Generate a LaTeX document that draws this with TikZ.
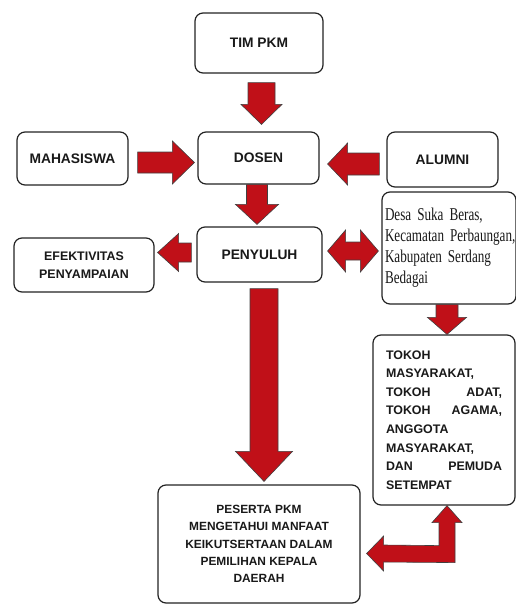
\documentclass[tikz,border=0pt]{standalone}
\usepackage{fontspec}
\setmainfont{Liberation Sans}
\newfontfamily\desafont{Liberation Serif}[FakeStretch=0.73]
\usetikzlibrary{calc}
\definecolor{arrowred}{RGB}{192,16,24}
\definecolor{boxline}{RGB}{35,35,35}
\tikzset{
  box/.style={draw=boxline, line width=1.2pt, rounded corners=8pt, fill=white,
    inner sep=3pt, text=black!90, font=\bfseries\fontsize{13.8}{18}\selectfont},
  multibox/.style={box, font=\bfseries\fontsize{11.9}{17.3}\selectfont},
  blockarrow/.style={fill=arrowred, draw=black!75, line width=0.6pt, line join=miter}
}
\newcommand{\getdir}[2]{%
  \path let \p1=#1, \p2=#2 in \pgfextra{%
    \pgfmathsetmacro{\arang}{atan2(\y2-\y1,\x2-\x1)}%
    \pgfmathsetmacro{\arlen}{veclen(\x2-\x1,\y2-\y1)}%
    \global\let\arangG\arang \global\let\arlenG\arlen};}
% #1 start, #2 tip, #3 shaft half width, #4 head half width, #5 head length
\newcommand{\barrow}[5]{%
  \getdir{#1}{#2}%
  \begin{scope}[shift={#1}, rotate=\arangG]
    \filldraw[blockarrow] (0,#3) -- (\arlenG-#5,#3) -- (\arlenG-#5,#4) -- (\arlenG,0)
      -- (\arlenG-#5,-#4) -- (\arlenG-#5,-#3) -- (0,-#3) -- cycle;
  \end{scope}}
\newcommand{\dbarrow}[5]{%
  \getdir{#1}{#2}%
  \begin{scope}[shift={#1}, rotate=\arangG]
    \filldraw[blockarrow] (0,0) -- (#5,#4) -- (#5,#3) -- (\arlenG-#5,#3) -- (\arlenG-#5,#4)
      -- (\arlenG,0) -- (\arlenG-#5,-#4) -- (\arlenG-#5,-#3) -- (#5,-#3) -- (#5,-#4) -- cycle;
  \end{scope}}
\begin{document}
\begin{tikzpicture}[x=1pt,y=-1pt]
\useasboundingbox (0,0) rectangle (516,605);

\node[box, minimum width=128pt, minimum height=60pt] (tim) at (259,43) {TIM PKM};
\node[box, minimum width=121pt, minimum height=52pt] (dosen) at (258.5,158) {DOSEN};
\node[box, minimum width=111pt, minimum height=53pt] (maha) at (72.5,158.5) {MAHASISWA};
\node[box, minimum width=111pt, minimum height=55pt] (alumni) at (442.5,159.5) {ALUMNI};
\node[box, minimum width=125pt, minimum height=55pt] (peny) at (259.5,254.5) {PENYULUH};
\node[multibox, minimum width=140pt, minimum height=54pt, align=center,
  font=\bfseries\fontsize{12.4}{18}\selectfont] (efek) at (84,265)
  {EFEKTIVITAS\\PENYAMPAIAN};
\node[box, minimum width=134pt, minimum height=112pt, text width=128pt, align=left,
  font=\desafont\fontsize{18}{21}\selectfont] (desa) at (449,248)
  {\mbox{Desa Suka Beras,}\\\mbox{Kecamatan Perbaungan,}\\\mbox{Kabupaten Serdang}\\\mbox{Bedagai}};
\node[multibox, minimum width=142pt, minimum height=170pt, text width=116pt, align=left,
  font=\bfseries\fontsize{12.4}{18.6}\selectfont] (tokoh) at (444,420)
  {TOKOH\\MASYARAKAT,\\TOKOH\hfill ADAT,\\TOKOH\hfill AGAMA,\\ANGGOTA\\MASYARAKAT,\\DAN\hfill PEMUDA\\SETEMPAT};
\node[multibox, minimum width=202pt, minimum height=118pt, align=center] (peserta) at (259,544)
  {PESERTA PKM\\MENGETAHUI MANFAAT\\KEIKUTSERTAAN DALAM\\PEMILIHAN KEPALA\\DAERAH};

% block arrows
\barrow{($(tim.south)+(2.5,9)$)}{($(tim.south |- dosen.north)+(2.5,-7)$)}{13.5}{20.5}{20}
\barrow{($(maha.east)+(9,4)$)}{($(maha.east -| dosen.west)+(-3,4)$)}{10.5}{21.5}{22}
\barrow{($(alumni.west)+(-7,4.5)$)}{($(alumni.west -| dosen.east)+(8,4.5)$)}{11}{21}{20}
\barrow{($(dosen.south)+(-1.5,0)$)}{($(dosen.south |- peny.north)+(-1.5,-2)$)}{10.5}{21.5}{20}
\barrow{($(peny.west)+(-5,-2)$)}{($(peny.west -| efek.east)+(3,-2)$)}{9.5}{19}{21}
\dbarrow{($(peny.east)+(5,-3.5)$)}{($(peny.east -| desa.west)+(-3,-3.5)$)}{9}{21}{18}
\barrow{($(desa.south)+(-2,0)$)}{($(desa.south |- tokoh.north)+(-2,0)$)}{11}{19.5}{17}
\barrow{($(peny.south)+(4.5,6)$)}{($(peny.south |- peserta.north)+(4.5,-3)$)}{14}{28.5}{30}

% elbow arrow between TOKOH and PESERTA
\coordinate (up) at ($(tokoh.south)+(3,0)$);
\coordinate (lt) at ($(peserta.east)+(6,9.5)$);
\filldraw[blockarrow] (up) -- ++(15,17) -- ++(-7,0) -- ($(up)+(8,57)$) -- ($(lt)+(17,8.5)$)
  -- ++(0,9) -- (lt) -- ($(lt)+(17,-17.5)$) -- ++(0,9) -- ($(up)+(-8,40)$)
  -- ($(up)+(-8,17)$) -- ++(-7,0) -- cycle;
\end{tikzpicture}
\end{document}
